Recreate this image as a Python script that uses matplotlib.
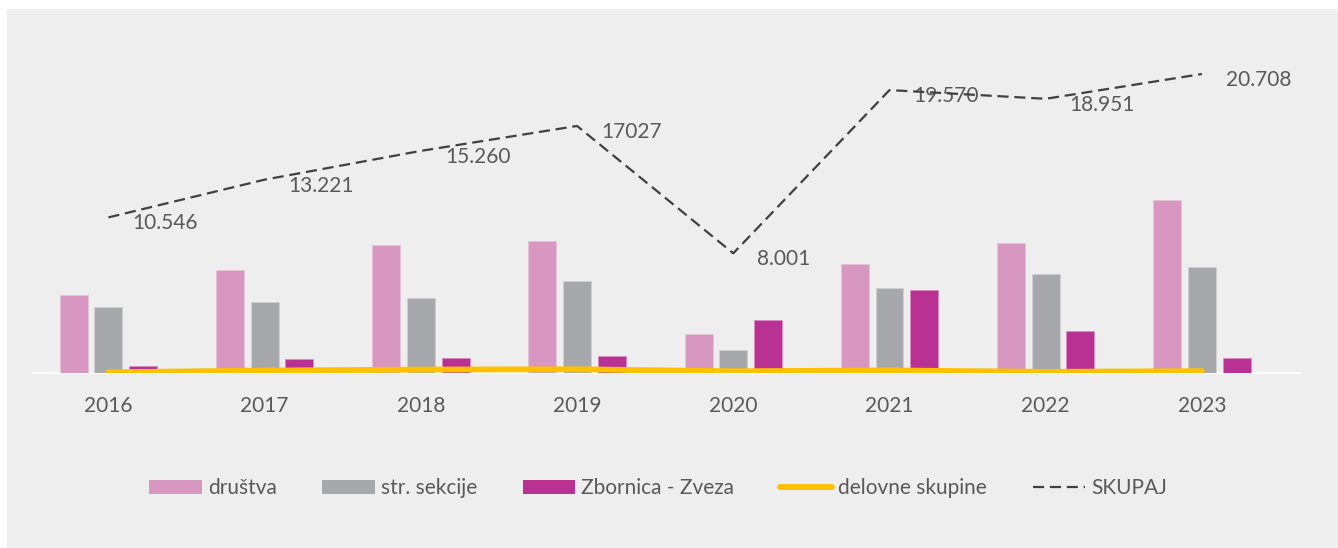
import matplotlib
matplotlib.use("Agg")
import matplotlib.pyplot as plt
from matplotlib.patches import Rectangle, Patch
from matplotlib.lines import Line2D
import numpy as np

# chart data
years = ["2016", "2017", "2018", "2019", "2020", "2021", "2022", "2023"]
drustva = [5460, 7210, 8960, 9240, 2730, 7630, 9100, 12110]
sekcije = [4620, 4990, 5250, 6440, 1610, 6000, 6950, 7440]
zbornica = [540, 1030, 1050, 1190, 3760, 5860, 2990, 1050]
delovne = [70, 190, 260, 280, 140, 200, 100, 150]
skupaj = [10546, 13221, 15260, 17027, 8001, 19570, 18951, 20708]
skupaj_labels = ["10.546", "13.221", "15.260", "17027", "8.001", "19.570", "18.951", "20.708"]

C_DRUSTVA = "#D797C0"
C_SEKCIJE = "#A7A8AB"
C_ZBORNICA = "#B93192"
C_DELOVNE = "#FFC000"
C_SKUPAJ = "#404040"
C_TEXT = "#595959"
BG = "#EEEEEE"

plt.rcParams['font.family'] = ['Lato', 'DejaVu Sans']

W, H = 1338, 548
fig = plt.figure(figsize=(W / 100, H / 100), dpi=100)
fig.patch.set_facecolor("white")
# grey chart area with small white margin top/left
fig.patches.append(Rectangle((7 / W, 0), 1 - 7 / W, 1 - 9 / H,
                             transform=fig.transFigure, facecolor=BG,
                             edgecolor="none", zorder=-10))

base_px = 373.3
top_px = 20
ax = fig.add_axes([33 / W, (H - base_px) / H, (1300 - 33) / W, (base_px - top_px) / H])
ax.set_facecolor("none")

x = np.arange(len(years))
bw = 0.179
off = 0.222
ax.bar(x - off, drustva, bw, color=C_DRUSTVA, edgecolor="#e6c3da", linewidth=0.6, zorder=2)
ax.bar(x, sekcije, bw, color=C_SEKCIJE, edgecolor="#d0d0d2", linewidth=0.6, zorder=2)
ax.bar(x + off, zbornica, bw, color=C_ZBORNICA, edgecolor="#d98cc3", linewidth=0.6, zorder=2)
ax.plot(x, delovne, color=C_DELOVNE, lw=4.2, solid_capstyle="round", zorder=4)

ax.set_xlim(-0.483, 7.628)
ax.set_ylim(0, 24720)
ax.set_xticks(x)
ax.set_xticklabels(years, fontsize=15, color=C_TEXT)
ax.tick_params(axis="x", length=0, pad=16)
ax.set_yticks([])
for s in ["top", "left", "right"]:
    ax.spines[s].set_visible(False)
ax.spines["bottom"].set_color("white")
ax.spines["bottom"].set_linewidth(1.6)
ax.spines["bottom"].set_zorder(1)

# total line sits on its own (secondary) scale
ax2 = ax.twinx()
ax2.set_ylim(-503, 24536)
ax2.plot(x, skupaj, color=C_SKUPAJ, lw=1.6, dashes=(5, 2.6), zorder=5)
for xi, yi, lab in zip(x, skupaj, skupaj_labels):
    ax2.annotate(lab, (xi, yi), xytext=(24, -6), textcoords="offset pixels",
                 ha="left", va="center", fontsize=15, color=C_TEXT)
ax2.set_yticks([])
for s in ax2.spines.values():
    s.set_visible(False)

handles = [
    Patch(facecolor=C_DRUSTVA),
    Patch(facecolor=C_SEKCIJE),
    Patch(facecolor=C_ZBORNICA),
    Line2D([0], [0], color=C_DELOVNE, lw=4.2, solid_capstyle="round"),
    Line2D([0], [0], color=C_SKUPAJ, lw=1.6, dashes=(5, 2.6)),
]
labels = ["društva", "str. sekcije", "Zbornica - Zveza", "delovne skupine", "SKUPAJ"]
leg = fig.legend(handles, labels, loc="center", bbox_to_anchor=(0.492, (H - 488) / H),
                 ncol=5, frameon=False, fontsize=15, handlelength=2.5,
                 handleheight=0.65, handletextpad=0.3, columnspacing=2.2)
for t in leg.get_texts():
    t.set_color(C_TEXT)

fig.savefig("out.png", dpi=100, facecolor=fig.get_facecolor())
